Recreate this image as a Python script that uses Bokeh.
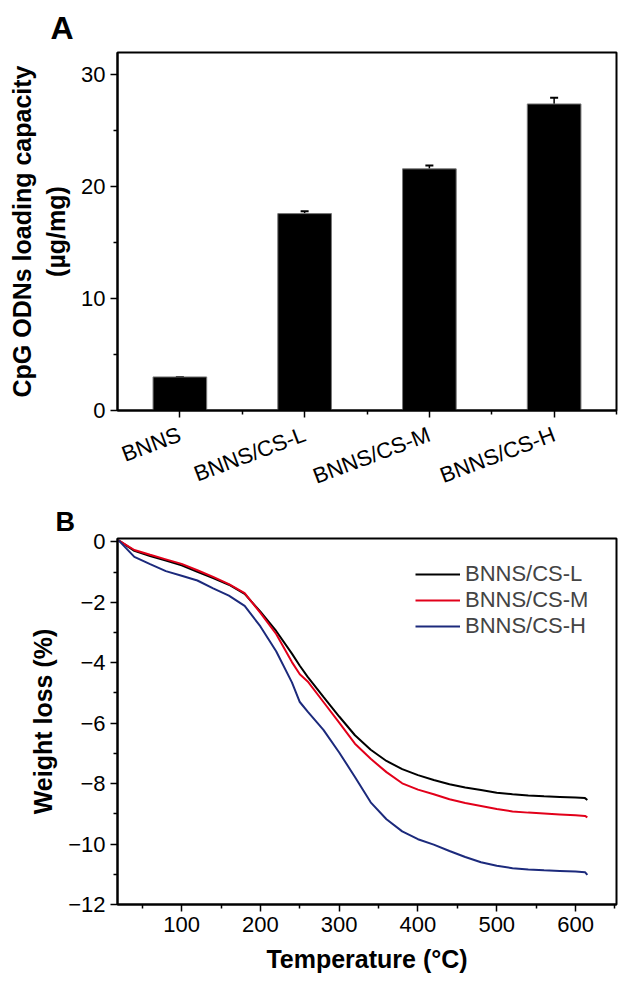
from bokeh.plotting import figure
from bokeh.models import (FixedTicker, Whisker, ColumnDataSource, Legend, LegendItem,
                          Range1d, TeeHead)
from bokeh.layouts import column
from bokeh.embed import file_html
from bokeh.resources import INLINE

# ---------------- data: panel A ----------------
categories = ["BNNS", "BNNS/CS-L", "BNNS/CS-M", "BNNS/CS-H"]
loading = [3.0, 17.6, 21.6, 27.4]
loading_err = [0.0, 0.2, 0.3, 0.55]

# ---------------- data: panel B ----------------
temperature = [20, 40, 60, 80, 100, 120, 140, 160, 180, 200, 220, 240, 250, 260, 280,
               300, 320, 340, 360, 380, 400, 420, 440, 460, 480, 500, 520, 540, 560,
               580, 600, 612, 615]
loss_L = [0.05, -0.30, -0.47, -0.62, -0.78, -0.99, -1.20, -1.42, -1.72, -2.31, -2.95,
          -3.70, -4.10, -4.47, -5.13, -5.78, -6.40, -6.88, -7.25, -7.52, -7.72, -7.88,
          -8.02, -8.13, -8.21, -8.30, -8.35, -8.39, -8.42, -8.44, -8.46, -8.48, -8.54]
loss_M = [0.05, -0.27, -0.43, -0.58, -0.73, -0.94, -1.16, -1.40, -1.70, -2.35, -3.05,
          -3.98, -4.38, -4.62, -5.30, -5.98, -6.68, -7.18, -7.62, -7.99, -8.20, -8.35,
          -8.52, -8.64, -8.74, -8.84, -8.92, -8.96, -8.99, -9.02, -9.05, -9.07, -9.12]
loss_H = [0.05, -0.50, -0.74, -0.97, -1.12, -1.28, -1.54, -1.78, -2.12, -2.80, -3.62,
          -4.65, -5.30, -5.62, -6.22, -6.97, -7.78, -8.62, -9.18, -9.58, -9.84, -10.02,
          -10.23, -10.43, -10.60, -10.72, -10.80, -10.84, -10.87, -10.89, -10.91, -10.93, -11.02]
series_names = ["BNNS/CS-L", "BNNS/CS-M", "BNNS/CS-H"]
series_colors = ["#000000", "#e2001a", "#1c2a7c"]

y_ticks_B = [0, -2, -4, -6, -8, -10, -12]
x_ticks_B = [100, 200, 300, 400, 500, 600]

FONT = "Liberation Sans"
TICK_FS = "22px"
LABEL_FS = "25px"


def style_axes(p):
    p.xgrid.visible = False
    p.ygrid.visible = False
    p.outline_line_color = "black"
    p.outline_line_width = 2
    p.outline_line_alpha = 1
    p.background_fill_color = "white"
    p.border_fill_color = "white"
    for ax in (p.xaxis, p.yaxis):
        ax.axis_line_width = 2
        ax.major_tick_line_width = 1.5
        ax.minor_tick_line_width = 1.5
        ax.major_tick_in = 0
        ax.major_tick_out = 7
        ax.minor_tick_in = 0
        ax.minor_tick_out = 4
        ax.major_label_text_font = FONT
        ax.major_label_text_font_size = TICK_FS
        ax.major_label_text_color = "black"
        ax.axis_label_text_font = FONT
        ax.axis_label_text_font_size = LABEL_FS
        ax.axis_label_text_font_style = "bold"
        ax.axis_label_text_color = "black"


def panel_title(p, text, size, offset, standoff):
    p.title.text = text
    p.title.align = "left"
    p.title.offset = offset
    p.title.standoff = standoff
    p.title.text_font = FONT
    p.title.text_font_size = size
    p.title.text_font_style = "bold"
    p.title.text_color = "black"


# ---------------- panel A ----------------
xpos = list(range(1, len(categories) + 1))
pa = figure(width=623, height=503, x_range=Range1d(0.5, 4.5), y_range=Range1d(0, 32),
            output_backend="svg", toolbar_location=None,
            min_border_left=117, min_border_right=6, min_border_top=52, min_border_bottom=84)
style_axes(pa)
panel_title(pa, "A", "32px", -67, 13)
pa.vbar(x=xpos, top=loading, width=0.43, fill_color="black", line_color="#777777", line_width=1)

err_src = ColumnDataSource(dict(x=xpos,
                                upper=[v + e for v, e in zip(loading, loading_err)],
                                lower=loading))
pa.add_layout(Whisker(base="x", upper="upper", lower="lower", source=err_src,
                      line_color="black", line_width=1.5,
                      upper_head=TeeHead(size=8, line_width=2, line_color="black"),
                      lower_head=None))

pa.xaxis.ticker = FixedTicker(ticks=xpos, minor_ticks=[1.5, 2.5, 3.5, 4.5])
pa.xaxis.major_label_overrides = {x: c for x, c in zip(xpos, categories)}
pa.xaxis.major_label_orientation = 0.36
pa.xaxis.major_label_standoff = 16
pa.yaxis.ticker = FixedTicker(ticks=[0, 10, 20, 30], minor_ticks=[5, 15, 25])
pa.yaxis.axis_label = "CpG ODNs loading capacity\n(\u00b5g/mg)"
pa.yaxis.axis_label_standoff = 8

# ---------------- panel B ----------------
pb = figure(width=623, height=486, x_range=Range1d(18.6, 652), y_range=Range1d(-12, 0.11),
            output_backend="svg", toolbar_location=None,
            min_border_left=114, min_border_right=7, min_border_top=30, min_border_bottom=85)
style_axes(pb)
panel_title(pb, "B", "27px", -62, 3)
renderers = []
for ys, col in zip([loss_L, loss_M, loss_H], series_colors):
    r = pb.line(temperature, ys, line_color=col, line_width=2)
    renderers.append(r)

pb.xaxis.ticker = FixedTicker(ticks=x_ticks_B, minor_ticks=[50, 150, 250, 350, 450, 550, 650])
pb.yaxis.ticker = FixedTicker(ticks=y_ticks_B, minor_ticks=[-1, -3, -5, -7, -9, -11])
pb.yaxis.major_label_overrides = {t: (str(t) if t >= 0 else "\u2212" + str(-t)) for t in y_ticks_B}
pb.xaxis.axis_label = "Temperature (\u00b0C)"
pb.yaxis.axis_label = "Weight loss (%)"
pb.xaxis.axis_label_standoff = 10
pb.yaxis.axis_label_standoff = 8

legend = Legend(items=[LegendItem(label=n, renderers=[r]) for n, r in zip(series_names, renderers)],
                location=(298, 265), padding=0, margin=0, spacing=0,
                label_height=24, glyph_height=24, glyph_width=45, label_standoff=5,
                label_text_font=FONT, label_text_font_size="22px",
                border_line_color=None, background_fill_alpha=0)
pb.add_layout(legend, "center")

layout = column(pa, pb, spacing=0)
open("out.html", "w").write(file_html(layout, INLINE))
